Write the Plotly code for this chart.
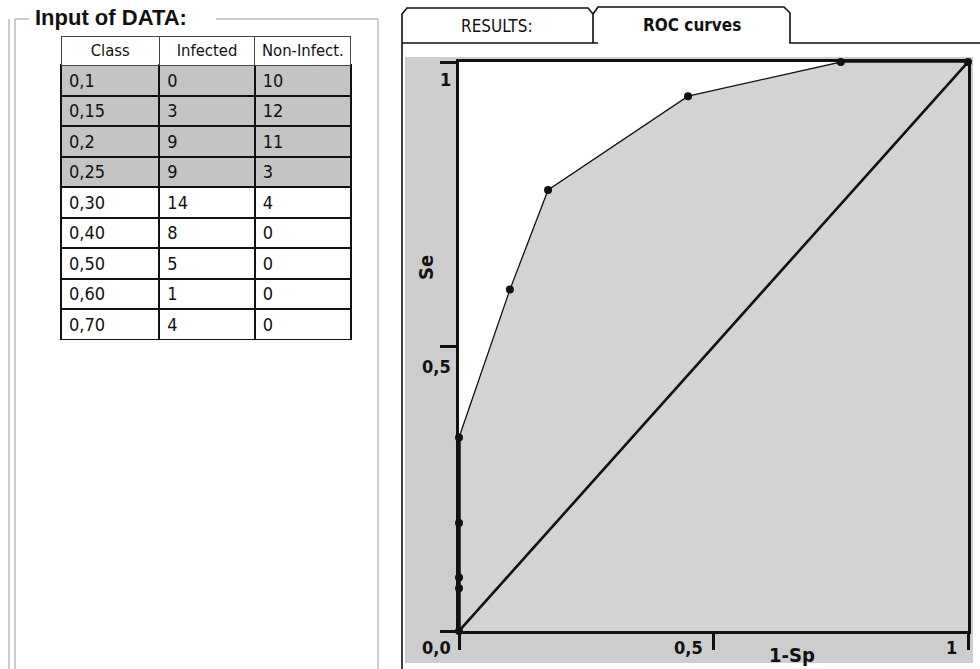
import plotly.graph_objects as go

# ---------------- data ----------------
classes = ["0,1", "0,15", "0,2", "0,25", "0,30", "0,40", "0,50", "0,60", "0,70"]
infected = [0, 3, 9, 9, 14, 8, 5, 1, 4]
non_infected = [10, 12, 11, 3, 4, 0, 0, 0, 0]
headers = ["Class", "Infected", "Non-Infect."]

roc_fpr = [0.0, 0.0, 0.0, 0.0, 0.0, 0.10, 0.175, 0.45, 0.75, 1.0]
roc_se = [0.0, 0.075, 0.094, 0.19, 0.34, 0.60, 0.775, 0.94, 1.0, 1.0]
diag_x = [0.0, 1.0]
diag_y = [0.0, 1.0]

tick_vals = [0, 0.5, 1]
y_tick_text = ["0,0", "0,5", "1"]
x_tick_text = ["", "0,5", "1"]

W, H = 980, 669
FONT = "DejaVu Sans Condensed, Liberation Sans Narrow, Arial Narrow, sans-serif"


def px(x):
    return x / W


def py(y):
    return 1 - y / H


def path(points, close=False):
    s = "M " + " L ".join(f"{px(x):.5f},{py(y):.5f}" for x, y in points)
    return s + (" Z" if close else "")


fig = go.Figure()

# ---------------- table ----------------
n_shaded = 4
row_fill = ["#c4c4c4" if i < n_shaded else "white" for i in range(len(classes))]
fig.add_trace(go.Table(
    domain=dict(x=[px(61), px(351)], y=[py(341), py(36)]),
    columnwidth=[98, 95, 96],
    header=dict(
        values=headers,
        align="center",
        height=29,
        fill_color="white",
        line=dict(color="#444", width=1),
        font=dict(family=FONT, size=16.5, color="#111"),
    ),
    cells=dict(
        values=[classes, infected, non_infected],
        align="left",
        height=30.5,
        fill_color=[row_fill, row_fill, row_fill],
        line=dict(color="#111", width=2),
        font=dict(family=FONT, size=18, color="#111"),
    ),
))

# ---------------- ROC chart ----------------
fig.add_trace(go.Scatter(
    x=roc_fpr, y=roc_se, mode="lines+markers",
    line=dict(color="#111", width=1.3),
    marker=dict(color="#111", size=8),
    fill="tozeroy", fillcolor="#d3d3d3",
    showlegend=False, hoverinfo="skip", cliponaxis=False,
))
zero_x = [x for x in roc_fpr if x == 0]
zero_y = [y for x, y in zip(roc_fpr, roc_se) if x == 0]
fig.add_trace(go.Scatter(
    x=zero_x, y=zero_y, mode="lines",
    line=dict(color="#111", width=3.5),
    showlegend=False, hoverinfo="skip",
))
fig.add_trace(go.Scatter(
    x=diag_x, y=diag_y, mode="lines",
    line=dict(color="#111", width=2.6),
    showlegend=False, hoverinfo="skip",
))

axis_common = dict(
    range=[0, 1], showgrid=False, zeroline=False,
    showline=True, linecolor="#111", linewidth=2.5, mirror=True,
    ticks="outside", ticklen=16, tickwidth=2.5, tickcolor="#111",
    tickvals=tick_vals, showticklabels=False, fixedrange=True,
    layer="below traces",
)
fig.update_layout(
    width=W, height=H,
    margin=dict(l=0, r=0, t=0, b=0),
    paper_bgcolor="white",
    plot_bgcolor="white",
    xaxis=dict(domain=[px(459), px(968)], **axis_common),
    yaxis=dict(domain=[py(631), py(62)], **axis_common),
    showlegend=False,
)

ann = []
tick_font = dict(family=FONT, size=18, color="#111", weight="bold")
for v, t, sh in zip(tick_vals, y_tick_text, [-16, -20, -18]):
    ann.append(dict(x=0, y=v, xref="x", yref="y", text=t, showarrow=False,
                    xanchor="right", yanchor="middle", xshift=-6, yshift=sh,
                    font=tick_font))
for v, t in zip(tick_vals, x_tick_text):
    if t:
        ann.append(dict(x=v, y=0, xref="x", yref="y", text=t, showarrow=False,
                        xanchor="right", yanchor="middle", xshift=-9, yshift=-16,
                        font=tick_font))


def label(x, y, text, font, xanchor="center", angle=0):
    return dict(x=px(x), y=py(y), xref="paper", yref="paper", text=text,
                showarrow=False, xanchor=xanchor, yanchor="middle",
                textangle=angle, font=font)


bold20 = dict(family=FONT, size=20, color="#111", weight="bold")
ann.append(label(426, 268, "Se", bold20, angle=-90))
ann.append(label(792, 655, "1-Sp", bold20))
ann.append(label(497, 26, "RESULTS:", dict(family=FONT, size=17, color="#111")))
ann.append(label(692, 25, "ROC curves", dict(family=FONT, size=17, color="#111", weight="bold")))
ann.append(label(33, 18, "Input of DATA:",
                 dict(family="Liberation Sans, Arial, sans-serif", size=22,
                      color="#111", weight="bold"), xanchor="left"))
fig.update_layout(annotations=ann)

shapes = []
# gray panel behind the chart, white plot area on top of it
shapes.append(dict(type="rect", xref="paper", yref="paper", layer="below",
                   x0=px(405), x1=px(973), y0=py(663), y1=py(57),
                   fillcolor="#cdcdcd", line=dict(width=0)))
shapes.append(dict(type="rect", xref="paper", yref="paper", layer="below",
                   x0=px(459), x1=px(968), y0=py(631), y1=py(62),
                   fillcolor="white", line=dict(width=0)))
# tabs
shapes.append(dict(type="path", xref="paper", yref="paper",
                   path=path([(402, 669), (402, 14), (407, 8), (588, 8), (593, 14), (593, 43)]),
                   line=dict(color="#111", width=1.6)))
shapes.append(dict(type="path", xref="paper", yref="paper",
                   path=path([(402, 43), (598, 43)]),
                   line=dict(color="#111", width=1.6)))
shapes.append(dict(type="path", xref="paper", yref="paper",
                   path=path([(593, 14), (598, 7), (784, 7), (790, 13), (790, 43), (980, 43)]),
                   line=dict(color="#111", width=1.6)))
# group box
gb = dict(color="#9a9a9a", width=1)
shapes.append(dict(type="path", xref="paper", yref="paper",
                   path=path([(9, 669), (9, 19)]), line=gb))
shapes.append(dict(type="path", xref="paper", yref="paper",
                   path=path([(15, 669), (15, 19), (29, 19)]), line=gb))
shapes.append(dict(type="path", xref="paper", yref="paper",
                   path=path([(216, 19), (378, 19), (378, 669)]), line=gb))
fig.update_layout(shapes=shapes)

fig.write_html("out.html", config={"displayModeBar": False},
               post_script="document.body.style.margin='0px';")
